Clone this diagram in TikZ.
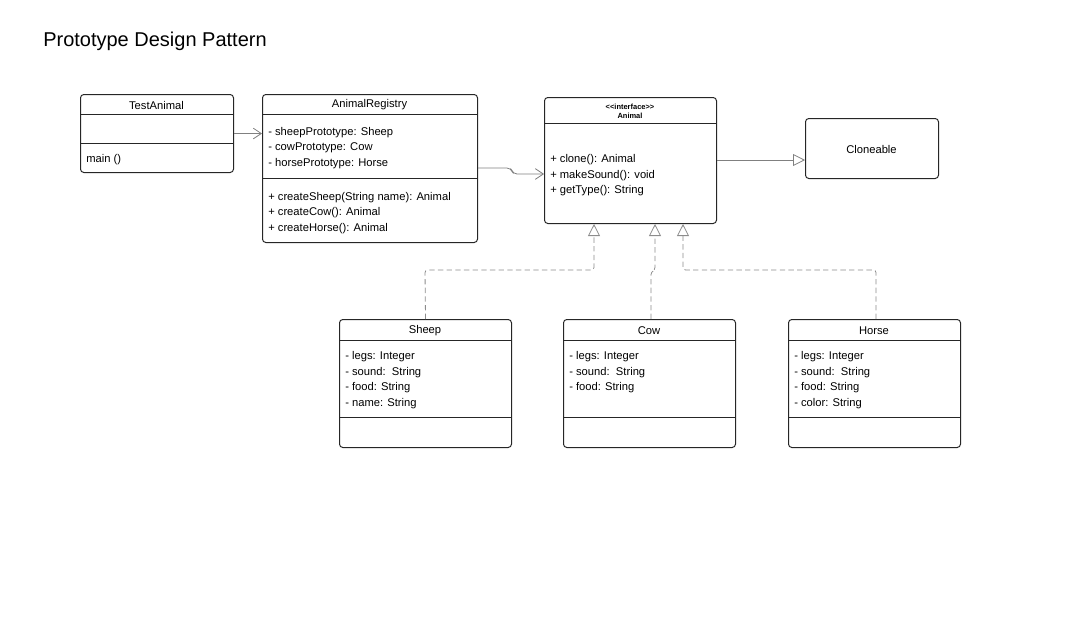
\documentclass[tikz,border=0pt]{standalone}
\usepackage{fontspec}
\setmainfont{Liberation Sans}
\usetikzlibrary{arrows.meta}
\newcommand\pxu{0.75pt}
\begin{document}
\begin{tikzpicture}[x=0.75pt,y=-0.75pt,
  classbox/.style={draw=black!85, line width=0.75pt, rounded corners=2.5pt, inner sep=0pt, anchor=north west},
  sep/.style={draw=black!85, line width=0.75pt},
  member/.style={anchor=west, inner sep=0pt, yshift=-1.1pt, font=\fontsize{8.4}{10}\selectfont},
  title/.style={anchor=center, inner sep=0pt, yshift=-0.8pt, font=\fontsize{8.4}{10}\selectfont},
  assoc/.style={draw=black!50, line width=0.6pt, -{Straight Barb[length=6pt,width=8pt]}},
  generalize/.style={draw=black!50, line width=0.6pt, -{Triangle[open,length=9pt,width=9pt]}},
  realize/.style={draw=black!45, line width=0.6pt, dash pattern=on 4pt off 2.5pt, rounded corners=2pt, -{Triangle[open,length=9pt,width=9pt]}}]
\useasboundingbox (0,0) rectangle (1083,625);

\node[anchor=west, inner sep=0pt, font=\fontsize{15}{18}\selectfont] (heading) at (43,41) {Prototype Design Pattern};

% TestAnimal
\node[classbox, minimum width=153*\pxu, minimum height=78*\pxu] (test) at (80,94) {};
\node[title] (testname) at (156.5,104) {TestAnimal};
\draw[sep] (80,114) -- (233,114);
\draw[sep] (80,143) -- (233,143);
\node[member] (testm1) at (86,158) {main ()};

% AnimalRegistry
\node[classbox, minimum width=215*\pxu, minimum height=148*\pxu] (reg) at (262,94) {};
\node[title] (regname) at (369.5,104) {AnimalRegistry};
\draw[sep] (262,114) -- (477,114);
\draw[sep] (262,178) -- (477,178);
\node[member] (rega1) at (268,131) {- sheepPrototype: Sheep};
\node[member] (rega2) at (268,146.5) {- cowPrototype: Cow};
\node[member] (rega3) at (268,162) {- horsePrototype: Horse};
\node[member] (regm1) at (268,196) {+ createSheep(String name): Animal};
\node[member] (regm2) at (268,211.5) {+ createCow(): Animal};
\node[member] (regm3) at (268,227) {+ createHorse(): Animal};

% Animal interface
\node[classbox, minimum width=172*\pxu, minimum height=126*\pxu] (anim) at (544,97) {};
\node[title, font=\fontsize{5.6}{7}\selectfont\bfseries, align=center] (animname) at (630,110) {<{}<interface>{}>\\Animal};
\draw[sep] (544,123) -- (716,123);
\node[member] (animm1) at (550,158.5) {+ clone(): Animal};
\node[member] (animm2) at (550,174) {+ makeSound(): void};
\node[member] (animm3) at (550,189.5) {+ getType(): String};

% Cloneable
\node[classbox, minimum width=133*\pxu, minimum height=60*\pxu] (clone) at (805,118) {};
\node[title] (clonename) at (871.5,148) {Cloneable};

% Sheep
\node[classbox, minimum width=172*\pxu, minimum height=128*\pxu] (sheep) at (339,319) {};
\node[title] (sheepname) at (425,330) {Sheep};
\draw[sep] (339,340) -- (511,340);
\draw[sep] (339,417) -- (511,417);
\node[member] (sheepa1) at (345,355.5) {- legs: Integer};
\node[member] (sheepa2) at (345,371) {- sound:\ \ String};
\node[member] (sheepa3) at (345,386.5) {- food: String};
\node[member] (sheepa4) at (345,402) {- name: String};

% Cow
\node[classbox, minimum width=172*\pxu, minimum height=128*\pxu] (cow) at (563,319) {};
\node[title] (cowname) at (649,330) {Cow};
\draw[sep] (563,340) -- (735,340);
\draw[sep] (563,417) -- (735,417);
\node[member] (cowa1) at (569,355.5) {- legs: Integer};
\node[member] (cowa2) at (569,371) {- sound:\ \ String};
\node[member] (cowa3) at (569,386.5) {- food: String};

% Horse
\node[classbox, minimum width=172*\pxu, minimum height=128*\pxu] (horse) at (788,319) {};
\node[title] (horsename) at (874,330) {Horse};
\draw[sep] (788,340) -- (960,340);
\draw[sep] (788,417) -- (960,417);
\node[member] (horsea1) at (794,355.5) {- legs: Integer};
\node[member] (horsea2) at (794,371) {- sound:\ \ String};
\node[member] (horsea3) at (794,386.5) {- food: String};
\node[member] (horsea4) at (794,402) {- color: String};

% Associations
\draw[assoc] (test.east) -- (test.east -| reg.west);
\draw[assoc, rounded corners=3pt] (reg.east |- 0,168) -- (511,168) -- (513,174) -- (anim.west |- 0,174);

% Animal extends Cloneable
\draw[generalize] (anim.east |- 0,160) -- (clone.west |- 0,160);

% Implementations of Animal
\draw[realize] (sheep.north) -- (425,270) -- (594,270) -- (anim.south -| 594,0);
\draw[realize] (cow.north -| 651,0) -- (651,272) -- (655,270) -- (anim.south -| 655,0);
\draw[realize] (horse.north -| 876,0) -- (876,270) -- (683,270) -- (anim.south -| 683,0);
\end{tikzpicture}
\end{document}
